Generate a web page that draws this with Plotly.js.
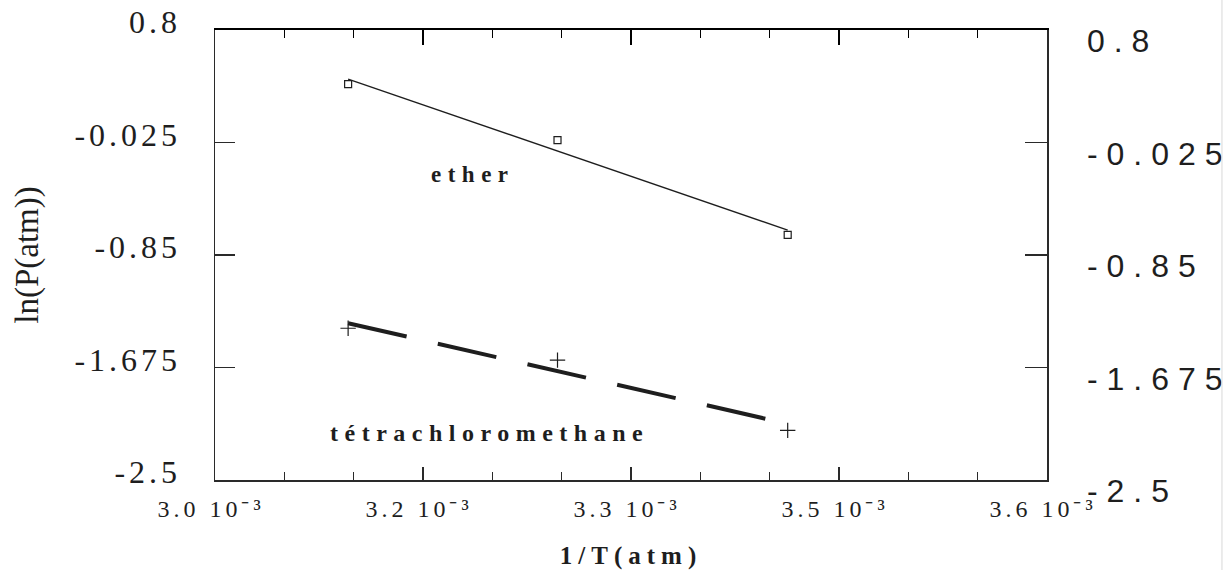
<!DOCTYPE html>
<html>
<head>
<meta charset="utf-8">
<script src="https://cdn.plot.ly/plotly-3.0.1.min.js"></script>
<style>
  html, body { margin: 0; padding: 0; background: #fff; }
  #chart { width: 1232px; height: 570px; }
  .ytick text { letter-spacing: 4px; }
  .y2tick text { letter-spacing: 9px; }
  .xtick text { letter-spacing: 4px; }
  .g-xtitle text { letter-spacing: 6px; }
  .annotation-text { letter-spacing: 6.5px; }
</style>
</head>
<body>
<div id="chart"></div>
<script>
// 1/T values (same three temperatures for both liquids)
const invT = [3.096e-3, 3.247e-3, 3.413e-3];
// ln(P) measured points
const etherLnP = [0.403, -0.007, -0.702];
const ccl4LnP = [-1.387, -1.621, -2.136];
// fitted straight lines (end points)
const fitX = [3.096e-3, 3.413e-3];
const etherFitY = [0.44, -0.668];
const ccl4FitY = [-1.35, -2.088];
// axis ticks
const xTickVals = [3.0e-3, 3.15e-3, 3.3e-3, 3.45e-3, 3.6e-3];
const xTickText = ['3.0 10⁻³', '3.2 10⁻³', '3.3 10⁻³', '3.5 10⁻³', '3.6 10⁻³'];
const xMinorVals = [3.05e-3, 3.1e-3, 3.2e-3, 3.25e-3, 3.35e-3, 3.4e-3, 3.5e-3, 3.55e-3];
const yTickVals = [0.8, -0.025, -0.85, -1.675, -2.5];
const yTickText = ['0.8', '-0.025', '-0.85', '-1.675', '-2.5'];

const ink = '#1e1e1e';
const frame = '#2a2a2a';
const serif = 'Liberation Serif, Times New Roman, serif';

const traces = [
  {
    x: fitX, y: etherFitY, mode: 'lines', name: 'ether fit', xaxis: 'x2',
    line: { color: ink, width: 1.4 }, hoverinfo: 'skip', showlegend: false
  },
  {
    x: invT, y: etherLnP, mode: 'markers', name: 'ether',
    marker: { symbol: 'square-open', size: 7, color: ink, line: { width: 1.2, color: ink } },
    showlegend: false
  },
  {
    x: fitX, y: ccl4FitY, mode: 'lines', name: 'tétrachloromethane fit', yaxis: 'y2',
    line: { color: ink, width: 4, dash: '60px,32px' }, hoverinfo: 'skip', showlegend: false
  },
  {
    x: invT, y: ccl4LnP, mode: 'markers', name: 'tétrachloromethane',
    marker: { symbol: 'cross-thin-open', size: 11, color: ink, line: { width: 1.2, color: ink } },
    showlegend: false
  }
];

const layout = {
  width: 1232, height: 570,
  margin: { l: 215, r: 185, t: 30, b: 90 },
  paper_bgcolor: '#fff', plot_bgcolor: 'rgba(0,0,0,0)',
  showlegend: false,
  xaxis: {
    range: [3.0e-3, 3.6e-3],
    tickmode: 'array', tickvals: xTickVals, ticktext: xTickText,
    ticks: 'inside', ticklen: 13, tickwidth: 1.3, tickcolor: frame,
    minor: { tickmode: 'array', tickvals: xMinorVals, ticks: 'inside', ticklen: 8, tickwidth: 1.3, tickcolor: frame },
    showline: true, linecolor: frame, linewidth: 1.5, mirror: false,
    showgrid: false, zeroline: false,
    ticklabelstandoff: 7, ticklabelshift: -4,
    tickfont: { family: serif, size: 24, color: ink },
    title: { text: '<b>1/T(atm)</b>', standoff: 26,
             font: { family: serif, size: 25, color: ink } }
  },
  xaxis2: {
    range: [3.0e-3, 3.6e-3], overlaying: 'x', side: 'top', anchor: 'y',
    tickmode: 'array', tickvals: xTickVals, ticktext: ['', '', '', '', ''], showticklabels: true,
    ticks: 'inside', ticklen: 15, tickwidth: 1.6, tickcolor: '#000',
    minor: { tickmode: 'array', tickvals: xMinorVals, ticks: 'inside', ticklen: 8, tickwidth: 1.6, tickcolor: '#000' },
    showline: true, linecolor: '#000', linewidth: 2,
    showgrid: false, zeroline: false
  },
  yaxis: {
    range: [-2.5, 0.8],
    tickmode: 'array', tickvals: yTickVals, ticktext: yTickText,
    ticks: 'inside', ticklen: 20, tickwidth: 1.3, tickcolor: frame,
    showline: true, linecolor: frame, linewidth: 1.5, mirror: false,
    showgrid: false, zeroline: false,
    ticklabelstandoff: 26, ticklabelshift: -8,
    tickfont: { family: serif, size: 32, color: ink },
    title: { text: 'ln(P(atm))', standoff: 26,
             font: { family: serif, size: 33, color: ink } }
  },
  yaxis2: {
    range: [-2.5, 0.8], overlaying: 'y', side: 'right', anchor: 'x',
    tickmode: 'array', tickvals: yTickVals, ticktext: yTickText,
    ticks: 'inside', ticklen: 22, tickwidth: 1.3, tickcolor: frame,
    showline: true, linecolor: frame, linewidth: 1.5,
    showgrid: false, zeroline: false,
    ticklabelstandoff: 32, ticklabelshift: 11,
    tickfont: { family: 'Liberation Sans, Arial, sans-serif', size: 32, color: ink }
  },
  annotations: [
    { text: '<b>ether</b>', x: 3.186e-3, y: -0.263, xref: 'x', yref: 'y', showarrow: false,
      font: { family: serif, size: 23, color: ink } },
    { text: '<b>tétrachloromethane</b>', x: 3.198e-3, y: -2.155, xref: 'x', yref: 'y', showarrow: false,
      font: { family: serif, size: 24, color: ink } }
  ],
  shapes: [
    { type: 'line', xref: 'paper', yref: 'paper', x0: 1.2103, x1: 1.2103, y0: -0.2, y1: 1.0667,
      line: { color: '#d8d8d8', width: 1 } }
  ]
};

Plotly.newPlot('chart', traces, layout, { staticPlot: true, displayModeBar: false });
</script>
</body>
</html>
